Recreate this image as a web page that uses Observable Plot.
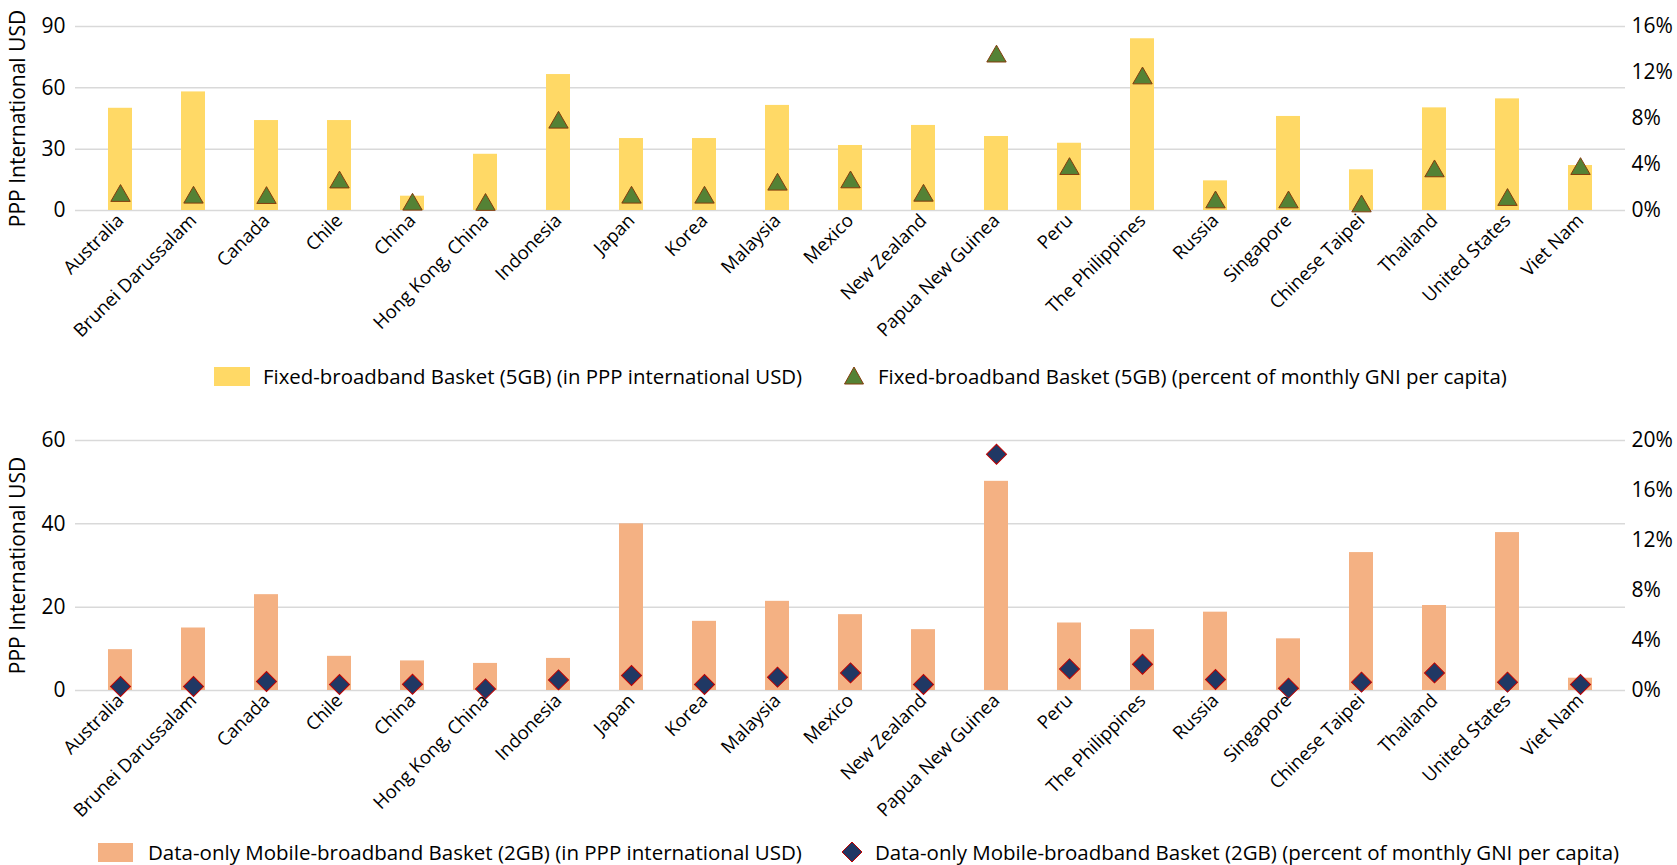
<!DOCTYPE html>
<html>
<head>
<meta charset="utf-8">
<script src="https://cdn.jsdelivr.net/npm/d3@7"></script>
<script src="https://cdn.jsdelivr.net/npm/@observablehq/plot@0.6"></script>
<style>
  html, body { margin: 0; padding: 0; background: #fff; }
  #wrap { position: relative; width: 1677px; height: 865px; overflow: hidden; font-family: "Open Sans", sans-serif; color: #000; }
  .abs { position: absolute; }
  .legtext { position: absolute; line-height: 1; white-space: nowrap; transform: translateY(-50%); }
</style>
</head>
<body>
<div id="wrap"></div>
<script>
const countries = ["Australia", "Brunei Darussalam", "Canada", "Chile", "China", "Hong Kong, China", "Indonesia", "Japan", "Korea", "Malaysia", "Mexico", "New Zealand", "Papua New Guinea", "Peru", "The Philippines", "Russia", "Singapore", "Chinese Taipei", "Thailand", "United States", "Viet Nam"];
const fixedUSD = [50, 58, 44, 44, 7, 27.5, 66.5, 35.2, 35.2, 51.4, 31.8, 41.6, 36.2, 32.9, 84, 14.5, 46, 19.9, 50.2, 54.6, 22];
const fixedPct = [1.28, 1.13, 1.1, 2.45, 0.52, 0.5, 7.65, 1.13, 1.13, 2.26, 2.46, 1.3, 13.4, 3.62, 11.5, 0.72, 0.72, 0.37, 3.42, 0.93, 3.62];
const mobileUSD = [9.8, 15.0, 23.0, 8.2, 7.1, 6.5, 7.7, 40.0, 16.6, 21.4, 18.2, 14.6, 50.2, 16.2, 14.6, 18.8, 12.4, 33.1, 20.4, 37.9, 2.95];
const mobilePct = [0.32, 0.32, 0.72, 0.48, 0.5, 0.13, 0.85, 1.2, 0.48, 1.07, 1.41, 0.48, 18.9, 1.73, 2.1, 0.88, 0.19, 0.67, 1.41, 0.67, 0.48];
const fixedUsdTicks = [0, 30, 60, 90];
const fixedPctTicks = [0, 4, 8, 12, 16];
const mobileUsdTicks = [0, 20, 40, 60];
const mobilePctTicks = [0, 4, 8, 12, 16, 20];
const yLabel = "PPP International USD";
const legend1 = ["Fixed-broadband Basket (5GB) (in PPP international USD)", "Fixed-broadband Basket (5GB) (percent of monthly GNI per capita)"];
const legend2 = ["Data-only Mobile-broadband Basket (2GB) (in PPP international USD)", "Data-only Mobile-broadband Basket (2GB) (percent of monthly GNI per capita)"];

const wrap = document.getElementById("wrap");

function panel({usd, pct, usdTicks, pctTicks, barColor, symbol, rotate, r, dotFill, dotStroke, height, marginTop, marginBottom}) {
  const usdMax = usdTicks[usdTicks.length - 1];
  const pctMax = pctTicks[pctTicks.length - 1];
  const k = usdMax / pctMax;
  const data = countries.map((c, i) => ({country: c, usd: usd[i], pct: pct[i]}));
  return Plot.plot({
    width: 1677,
    height,
    marginLeft: 75,
    marginRight: 52,
    marginTop,
    marginBottom,
    style: {fontFamily: "Open Sans", fontSize: "20px", color: "#000", background: "transparent", overflow: "visible"},
    x: {domain: countries, paddingInner: 0.67, paddingOuter: 0.335},
    y: {domain: [0, usdMax]},
    marks: [
      Plot.gridY(usdTicks, {stroke: "#d9d9d9", strokeOpacity: 1, strokeWidth: 1.5}),
      Plot.barY(data, {x: "country", y: "usd", fill: barColor}),
      Plot.dot(data, {x: "country", y: d => d.pct * k, symbol, rotate, r, fill: dotFill, stroke: dotStroke, strokeWidth: 1}),
      Plot.axisY(usdTicks, {anchor: "left", tickSize: 0, tickPadding: 10, label: null, fontSize: 21}),
      Plot.axisY(pctTicks.map(p => p * k), {anchor: "right", tickSize: 0, tickPadding: 6, label: null, fontSize: 21, tickFormat: v => Math.round(v / k) + "%"}),
      Plot.axisX({tickRotate: -45, tickSize: 0, tickPadding: 7, label: null, fontSize: 18.5}),
      Plot.text([yLabel], {text: d => d, frameAnchor: "left", dx: -57, rotate: -90, textAnchor: "middle", lineAnchor: "middle", fontSize: 21, fontFamily: "Open Sans"})
    ]
  });
}

const topChart = panel({usd: fixedUSD, pct: fixedPct, usdTicks: fixedUsdTicks, pctTicks: fixedPctTicks, barColor: "#ffd966", symbol: "triangle", rotate: 0, r: 7.2, dotFill: "#548235", dotStroke: "#843c0c", height: 345, marginTop: 26, marginBottom: 135});
topChart.classList.add("abs");
topChart.style.left = "0px"; topChart.style.top = "0px";
wrap.appendChild(topChart);

const bottomChart = panel({usd: mobileUSD, pct: mobilePct, usdTicks: mobileUsdTicks, pctTicks: mobilePctTicks, barColor: "#f4b183", symbol: "square", rotate: 45, r: 8, dotFill: "#203864", dotStroke: "#c00000", height: 400, marginTop: 40, marginBottom: 110});
bottomChart.classList.add("abs");
bottomChart.style.left = "0px"; bottomChart.style.top = "400px";
wrap.appendChild(bottomChart);

function addLegend(cy, fs, swX, swW, swColor, t1X, text1, symX, symSvg, t2X, text2) {
  const sw = document.createElement("div");
  sw.className = "abs";
  Object.assign(sw.style, {left: swX + "px", top: (cy - 9.5) + "px", width: swW + "px", height: "19px", background: swColor});
  wrap.appendChild(sw);
  const t1 = document.createElement("div");
  t1.className = "legtext"; t1.textContent = text1;
  Object.assign(t1.style, {left: t1X + "px", top: cy + "px", fontSize: fs + "px"});
  wrap.appendChild(t1);
  const s = document.createElement("div");
  s.className = "abs";
  Object.assign(s.style, {left: (symX - 11) + "px", top: (cy - 11) + "px", width: "22px", height: "22px"});
  s.innerHTML = symSvg;
  wrap.appendChild(s);
  const t2 = document.createElement("div");
  t2.className = "legtext"; t2.textContent = text2;
  Object.assign(t2.style, {left: t2X + "px", top: cy + "px", fontSize: fs + "px"});
  wrap.appendChild(t2);
}

addLegend(376, 20.4, 214, 36, "#ffd966", 263, legend1[0], 854,
  '<svg width="22" height="22"><polygon points="11,2 20.5,19 1.5,19" fill="#548235" stroke="#843c0c" stroke-width="1"/></svg>', 878, legend1[1]);
addLegend(852, 20.5, 98, 35, "#f4b183", 148, legend2[0], 852,
  '<svg width="22" height="22"><polygon points="11,1 21,11 11,21 1,11" fill="#203864" stroke="#c00000" stroke-width="1"/></svg>', 875, legend2[1]);
</script>
</body>
</html>
